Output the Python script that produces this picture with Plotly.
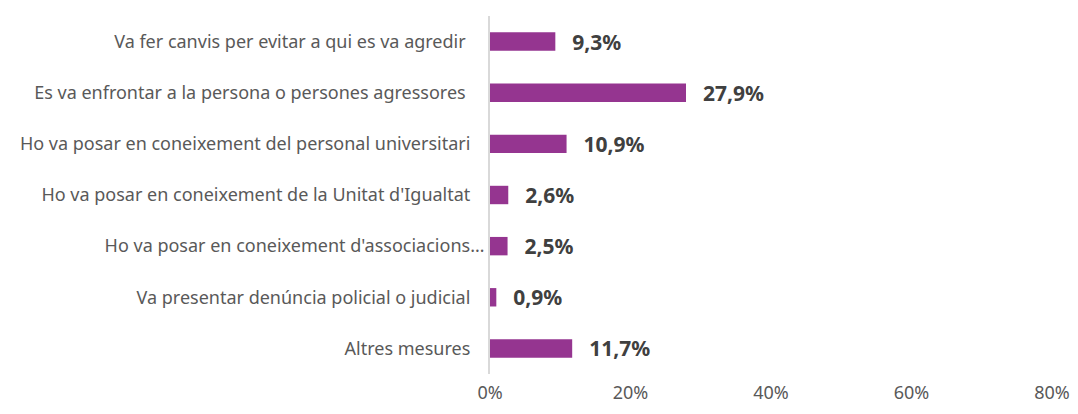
import plotly.graph_objects as go

categories = [
    "Va fer canvis per evitar a qui es va agredir",
    "Es va enfrontar a la persona o persones agressores",
    "Ho va posar en coneixement del personal universitari",
    "Ho va posar en coneixement de la Unitat d'Igualtat",
    "Ho va posar en coneixement d'associacions…",
    "Va presentar denúncia policial o judicial",
    "Altres mesures",
]
values = [9.3, 27.9, 10.9, 2.6, 2.5, 0.9, 11.7]
x_ticks = [0, 20, 40, 60, 80]

# Excel leaves some room after most labels; the truncated one runs right to the axis
pad = [4, 4, 3, 3, 0, 3, 3]
tick_text = [c + "\u00a0" * p for c, p in zip(categories, pad)]

labels = ["\u2009\u2009\u2009\u2009" + f"{v:.1f}%".replace(".", ",") for v in values]

fig = go.Figure(
    go.Bar(
        x=values,
        y=categories,
        orientation="h",
        text=labels,
        textposition="outside",
        constraintext="none",
        cliponaxis=False,
        marker=dict(color="#953590", line=dict(width=0)),
        width=0.36,
        textfont=dict(family="Noto Sans", size=21, color="#404040", weight="bold"),
    )
)

fig.update_layout(
    width=1078,
    height=414,
    margin=dict(l=490, r=26, t=16, b=40),
    plot_bgcolor="white",
    paper_bgcolor="white",
    showlegend=False,
    font=dict(family="Noto Sans", color="#595959"),
)
fig.update_xaxes(
    range=[0, 80],
    tickvals=x_ticks,
    ticktext=[f"{t}%" for t in x_ticks],
    showgrid=False,
    zeroline=False,
    showline=False,
    automargin=False,
    ticklabelstandoff=6,
    tickfont=dict(size=18, color="#595959"),
)
fig.update_yaxes(
    autorange="reversed",
    tickvals=categories,
    ticktext=tick_text,
    showgrid=False,
    showline=True,
    linecolor="#d9d9d9",
    linewidth=2,
    ticks="",
    automargin=False,
    ticklabelstandoff=0,
    tickfont=dict(size=18, color="#595959"),
)

# the page's body has a default margin; drop it so the figure sits at 0,0
fig.write_html(
    "out.html",
    config={"displayModeBar": False},
    post_script="document.body.style.margin='0px';",
)
